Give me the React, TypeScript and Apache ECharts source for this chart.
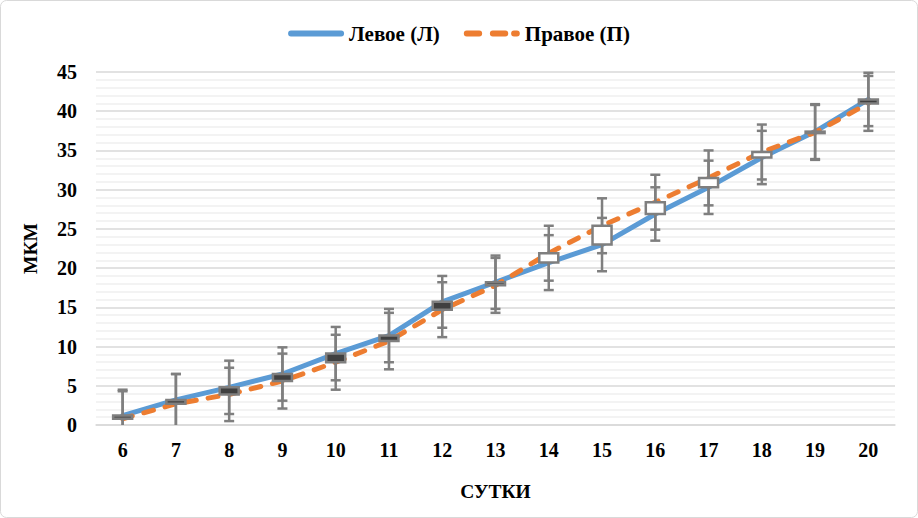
import React, { useEffect, useRef } from "react";
import * as echarts from "echarts";

// Days of observation
const days = ["6", "7", "8", "9", "10", "11", "12", "13", "14", "15", "16", "17", "18", "19", "20"];
// Left side (Л), µm
const leftValues = [1.2, 3.2, 4.8, 6.5, 9.1, 11.4, 15.7, 18.2, 20.7, 23.0, 26.9, 30.3, 34.1, 37.4, 41.5];
// Right side (П), µm
const rightValues = [0.8, 2.7, 3.9, 5.6, 8.0, 10.7, 14.7, 17.8, 21.9, 25.4, 28.4, 31.5, 34.8, 37.3, 41.0];
// Error (±) for each side
const leftErrors = [3.3, 3.3, 3.4, 3.4, 3.4, 3.4, 3.3, 3.4, 3.5, 3.4, 3.4, 3.4, 3.4, 3.5, 3.4];
const rightErrors = [3.5, 3.8, 3.4, 3.5, 3.5, 3.6, 3.5, 3.5, 3.5, 3.5, 3.5, 3.5, 3.5, 3.5, 3.5];

const FONT = "'Liberation Serif', 'Times New Roman', serif";
const GREY = "#7F7F7F";

// Legend icons: a solid rounded stroke and a three-dash stroke
const SOLID_ICON = "path://M3,0 L55,0 A3,3 0 0 1 55,6 L3,6 A3,3 0 0 1 3,0 Z";
const DASHED_ICON =
  "path://M3,0 L16,0 A3,3 0 0 1 16,6 L3,6 A3,3 0 0 1 3,0 Z " +
  "M30,0 L43,0 A3,3 0 0 1 43,6 L30,6 A3,3 0 0 1 30,0 Z " +
  "M52,0 L55,0 A3,3 0 0 1 55,6 L52,6 A3,3 0 0 1 52,0 Z";

function errorBarItem(params: any, api: any) {
  const idx = api.value(0);
  const val = api.value(1);
  const err = api.value(2);
  const hi = val + err;
  const lo = Math.max(0, val - err);
  const top = api.coord([idx, hi]);
  const bottom = api.coord([idx, lo]);
  const cap = 5;
  const children: any[] = [
    {
      type: "line",
      shape: { x1: top[0], y1: top[1], x2: bottom[0], y2: bottom[1] },
      style: { stroke: GREY, lineWidth: 2.5 },
    },
    {
      type: "line",
      shape: { x1: top[0] - cap, y1: top[1], x2: top[0] + cap, y2: top[1] },
      style: { stroke: GREY, lineWidth: 2.5 },
    },
  ];
  if (val - err >= 0) {
    children.push({
      type: "line",
      shape: { x1: bottom[0] - cap, y1: bottom[1], x2: bottom[0] + cap, y2: bottom[1] },
      style: { stroke: GREY, lineWidth: 2.5 },
    });
  }
  return { type: "group", children };
}

function upDownBarItem(params: any, api: any) {
  const idx = api.value(0);
  const l = api.value(1);
  const r = api.value(2);
  const pl = api.coord([idx, l]);
  const pr = api.coord([idx, r]);
  const w = 19;
  const y = Math.min(pl[1], pr[1]);
  const h = Math.max(Math.abs(pl[1] - pr[1]), 1.5);
  return {
    type: "rect",
    shape: { x: pl[0] - w / 2, y, width: w, height: h },
    style: { fill: l > r ? "#404040" : "#FFFFFF", stroke: GREY, lineWidth: 2.5 },
  };
}

export default function App() {
  const ref = useRef<HTMLDivElement>(null);

  useEffect(() => {
    document.body.style.margin = "0";
    const chart = echarts.init(ref.current!, null, { renderer: "svg" });
    const idxs = days.map((_, i) => i);
    chart.setOption({
      animation: false,
      backgroundColor: "#FFFFFF",
      graphic: [
        {
          type: "rect",
          shape: { x: 0.5, y: 0.5, width: 917, height: 517, r: 6 },
          style: { fill: "none", stroke: "#D9D9D9", lineWidth: 1 },
          z: 100,
        },
      ],
      legend: {
        top: 18,
        left: "center",
        itemWidth: 56,
        itemHeight: 6,
        itemGap: 24,
        textStyle: { fontFamily: FONT, fontWeight: "bold", fontSize: 21, color: "#000" },
        data: [
          { name: "Левое (Л)", icon: SOLID_ICON },
          { name: "Правое (П)", icon: DASHED_ICON },
        ],
      },
      grid: { left: 96, right: 23, top: 72, bottom: 93 },
      xAxis: {
        type: "category",
        data: days,
        boundaryGap: true,
        axisLine: { show: true, lineStyle: { color: "#D9D9D9", width: 1.5 } },
        axisTick: { show: false },
        axisLabel: { fontFamily: FONT, fontWeight: "bold", fontSize: 20, color: "#000", margin: 15 },
        name: "СУТКИ",
        nameLocation: "middle",
        nameGap: 56,
        nameTextStyle: { fontFamily: FONT, fontWeight: "bold", fontSize: 19.5, color: "#000" },
      },
      yAxis: {
        type: "value",
        min: 0,
        max: 45,
        interval: 5,
        axisLine: { show: false },
        axisTick: { show: false },
        axisLabel: { fontFamily: FONT, fontWeight: "bold", fontSize: 20, color: "#000", margin: 19 },
        splitLine: { show: true, lineStyle: { color: "#D9D9D9", width: 1.5 } },
        minorTick: { show: false, splitNumber: 5 },
        minorSplitLine: { show: true, lineStyle: { color: "#EFEFEF", width: 1.5 } },
        name: "МКМ",
        nameLocation: "middle",
        nameGap: 56,
        nameTextStyle: { fontFamily: FONT, fontWeight: "bold", fontSize: 19.5, color: "#000" },
      },
      series: [
        {
          name: "Левое (Л)",
          type: "line",
          data: leftValues,
          symbol: "none",
          color: "#5B9BD5",
          lineStyle: { color: "#5B9BD5", width: 5, cap: "round" },
          z: 2,
        },
        {
          name: "Правое (П)",
          type: "line",
          data: rightValues,
          symbol: "none",
          color: "#ED7D31",
          lineStyle: { color: "#ED7D31", width: 5, type: [10, 12], cap: "round" },
          z: 3,
        },
        {
          type: "custom",
          renderItem: errorBarItem,
          data: idxs.map((i) => [i, leftValues[i], leftErrors[i]]),
          encode: { x: 0, y: 1 },
          z: 4,
        },
        {
          type: "custom",
          renderItem: errorBarItem,
          data: idxs.map((i) => [i, rightValues[i], rightErrors[i]]),
          encode: { x: 0, y: 1 },
          z: 4,
        },
        {
          type: "custom",
          renderItem: upDownBarItem,
          data: idxs.map((i) => [i, leftValues[i], rightValues[i]]),
          encode: { x: 0, y: [1, 2] },
          z: 5,
        },
      ],
    });
    return () => chart.dispose();
  }, []);

  return <div ref={ref} style={{ width: 918, height: 518 }} />;
}
